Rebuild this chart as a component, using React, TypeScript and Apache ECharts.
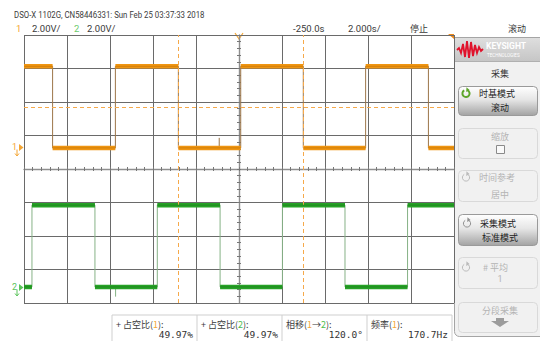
import { useEffect, useRef } from "react";
import * as echarts from "echarts";

// Horizontal window (s) and vertical scale (V/div)
const timeStart = -260;
const timeEnd = -240;
const timePerDiv = 2;
const voltsPerDiv = 2;

// Channel 1: square wave levels (V) and edge times (s)
const ch1Low = 0;
const ch1High = 4.87;
const ch1StartsHigh = true;
const ch1Edges = [-258.67, -255.75, -252.82, -249.92, -247.01, -244.11, -241.19];
const ch1OffsetDiv = 0.63;
const ch1Glitch = [-250.92, 0.6];

// Channel 2
const ch2Low = 0;
const ch2High = 4.88;
const ch2StartsHigh = false;
const ch2Edges = [-259.63, -256.7, -253.8, -250.88, -247.98, -245.07, -242.16];
const ch2OffsetDiv = -3.52;
const ch2Glitch = [-255.74, -0.58];

// Measurement readouts
const measNames = ["+ 占空比", "+ 占空比", "相移", "频率"];
const measSources = ["{o|1}", "{g|2}", "{o|1}→{g|2}", "{o|1}"];
const measValues = ["49.97%", "49.97%", "120.0°", "170.7Hz"];

const ORANGE = "#ef9512";
const ORANGE_EDGE = "#9c7548";
const ORANGE_CORE = "#c47404";
const GREEN = "#27a327";
const GREEN_EDGE = "#86b286";
const GREEN_CORE = "#1a7a1a";
const GRID = "#6a6a6a";

type Seg = [number, number, number];

function segments(edges: number[], startsHigh: boolean, lo: number, hi: number): Seg[] {
  const bounds = [timeStart, ...edges, timeEnd];
  const out: Seg[] = [];
  let high = startsHigh;
  for (let i = 0; i < bounds.length - 1; i++) {
    out.push([bounds[i], bounds[i + 1], high ? hi : lo]);
    high = !high;
  }
  return out;
}

function stepLine(segs: Seg[]) {
  const pts: (number | string)[][] = [];
  segs.forEach(([a, b, v]) => {
    pts.push([a, v], [b, v]);
  });
  return pts;
}

function plateauLine(segs: Seg[]) {
  const pts: (number | string)[][] = [];
  segs.forEach(([a, b, v]) => {
    pts.push([a, v], [b, v], [b, "-"]);
  });
  return pts;
}

const cjk = '"Noto Sans CJK SC", "Noto Sans", sans-serif';
const sans = 'Roboto, "Liberation Sans", sans-serif';
const mono = '"DejaVu Sans Mono", "Liberation Mono", monospace';

function txt(x: number, y: number, text: string, opts: any = {}) {
  const align = opts.align || "left";
  return {
    type: "text",
    x,
    y,
    scaleX: opts.scaleX || 1,
    silent: true,
    style: {
      text,
      fill: opts.fill || "#3a3a3a",
      font: opts.font || `9px ${cjk}`,
      textAlign: align,
      align,
      textVerticalAlign: "middle",
      verticalAlign: "middle",
      rich: opts.rich,
    },
  };
}

function spinIcon(cx: number, cy: number, color: string, w: number) {
  return [
    {
      type: "arc",
      silent: true,
      shape: { cx, cy, r: 3.6, startAngle: -1.2, endAngle: 4.2, clockwise: true },
      style: { stroke: color, lineWidth: w, fill: "none" },
    },
    {
      type: "polygon",
      silent: true,
      shape: { points: [[cx + 0.5, cy - 6.2], [cx + 3.6, cy - 3.6], [cx + 0.2, cy - 1.6]] },
      style: { fill: color },
    },
  ];
}

function buildGraphics() {
  const g: any[] = [];
  // header
  g.push(txt(14, 15, "DSO-X 1102G, CN58446331: Sun Feb 25 03:37:33 2018", {
    font: `9px ${sans}`, fill: "#3c3c3c", scaleX: 0.87,
  }));
  g.push(txt(16, 28, "1", { font: `9.5px ${sans}`, fill: "#f4a634" }));
  g.push(txt(32, 28, "2.00V/", { font: `9.5px ${sans}` }));
  g.push(txt(74, 28, "2", { font: `9.5px ${sans}`, fill: "#6ccb6c" }));
  g.push(txt(87, 28, "2.00V/", { font: `9.5px ${sans}` }));
  g.push(txt(293, 28, "-250.0s", { font: `9.5px ${sans}` }));
  g.push(txt(348, 28, "2.000s/", { font: `9.5px ${sans}` }));
  g.push(txt(410, 28, "停止"));
  g.push(txt(508, 28, "滚动"));

  // trigger / delay indicators on the top edge
  g.push({
    type: "polyline", silent: true,
    shape: { points: [[235, 33], [239, 39], [243, 33]] },
    style: { stroke: "#f4a634", lineWidth: 1.2, fill: "none" },
  });
  g.push({
    type: "polygon", silent: true,
    shape: { points: [[448, 34], [454, 34], [454, 39]] },
    style: { fill: "#f08a1a" },
  });

  // ground markers
  const gm = (y: number, label: string, color: string) => [
    txt(12, y - 1, label, { font: `9px ${sans}`, fill: color }),
    {
      type: "polygon", silent: true,
      shape: { points: [[19, y - 3.5], [23.5, y], [19, y + 3.5]] },
      style: { fill: color },
    },
    {
      type: "line", silent: true,
      shape: { x1: 17, y1: y + 2, x2: 17, y2: y + 8 },
      style: { stroke: color, lineWidth: 1 },
    },
    {
      type: "polyline", silent: true,
      shape: { points: [[15, y + 6], [17, y + 8.5], [19, y + 6]] },
      style: { stroke: color, lineWidth: 1, fill: "none" },
    },
  ];
  g.push(...gm(147.5, "1", "#f4a634"));
  g.push(...gm(287.5, "2", "#5cc45c"));

  // measurement bar
  const cellX = [112, 197, 282, 367, 452];
  g.push({
    type: "line", silent: true,
    shape: { x1: 112, y1: 315, x2: 452, y2: 315 },
    style: { stroke: "#cfcfcf", lineWidth: 1 },
  });
  cellX.forEach((x) =>
    g.push({
      type: "line", silent: true,
      shape: { x1: x, y1: 315, x2: x, y2: 341 },
      style: { stroke: "#cfcfcf", lineWidth: 1 },
    })
  );
  const rich = {
    o: { fill: "#f4a634", font: `9px ${cjk}` },
    g: { fill: "#4dbd4d", font: `9px ${cjk}` },
  };
  measNames.forEach((name, i) => {
    g.push(txt(cellX[i] + 4, 324, `${name}(${measSources[i]}):`, { rich }));
    g.push(txt(cellX[i + 1] - 4, 334.5, measValues[i], { font: `9.5px ${mono}`, align: "right", fill: "#333" }));
  });

  // side panel
  g.push({
    type: "rect", silent: true,
    shape: { x: 454.5, y: 37.5, width: 92, height: 299, r: [0, 0, 0, 5] },
    style: { fill: "#f1f1f1", stroke: "#a5a5a5", lineWidth: 1 },
  });
  g.push({
    type: "rect", silent: true,
    shape: { x: 455, y: 38, width: 86, height: 23 },
    style: {
      fill: new echarts.graphic.LinearGradient(0, 0, 0, 1, [
        { offset: 0, color: "#dedede" },
        { offset: 1, color: "#c6c6c6" },
      ]),
    },
  });
  g.push({
    type: "polyline", silent: true,
    shape: {
      points: [[457, 50], [459, 48], [461, 53], [463, 44], [465, 57], [467, 41], [469, 58],
        [471, 42], [473, 56], [475, 45], [477, 53], [479, 47], [481, 51], [483, 49]],
    },
    style: { stroke: "#e0122b", lineWidth: 1.8, fill: "none" },
  });
  g.push(txt(486, 46, "KEYSIGHT", { font: `bold 8.5px ${sans}`, fill: "#ffffff" }));
  g.push(txt(487, 55.5, "TECHNOLOGIES", { font: `4.5px ${sans}`, fill: "#ffffff" }));
  g.push({
    type: "line", silent: true,
    shape: { x1: 455, y1: 61.5, x2: 540, y2: 61.5 },
    style: { stroke: "#b0b0b0", lineWidth: 1 },
  });
  g.push(txt(500, 73, "采集", { align: "center", fill: "#333" }));

  const activeFill = new echarts.graphic.LinearGradient(0, 0, 0, 1, [
    { offset: 0, color: "#ffffff" },
    { offset: 0.45, color: "#e6e6e6" },
    { offset: 1, color: "#a3a3a3" },
  ]);
  const btn = (y: number, h: number, active: boolean) => ({
    type: "rect", silent: true,
    shape: { x: 458.5, y: y + 0.5, width: 79, height: h, r: 4 },
    style: active
      ? { fill: activeFill, stroke: "#9a9a9a", lineWidth: 1 }
      : { fill: "#f1f1f1", stroke: "#d9d9d9", lineWidth: 1 },
  });
  const dim = "#b4b4b4";

  g.push(btn(86, 29, true));
  g.push(...spinIcon(466, 93.5, "#5da52a", 2));
  g.push(txt(479, 93, "时基模式", { fill: "#222" }));
  g.push(txt(500, 107, "滚动", { align: "center", fill: "#222" }));

  g.push(btn(128, 30, false));
  g.push(txt(500, 136, "缩放", { align: "center", fill: dim }));
  g.push({
    type: "rect", silent: true,
    shape: { x: 496.5, y: 145.5, width: 8, height: 8 },
    style: { fill: "#fafafa", stroke: "#8a8a8a", lineWidth: 1 },
  });

  g.push(btn(170, 31, false));
  g.push(...spinIcon(466, 177.5, "#bbbbbb", 1));
  g.push(txt(479, 177, "时间参考", { fill: dim }));
  g.push(txt(500, 194, "居中", { align: "center", fill: dim }));

  g.push(btn(214, 31, true));
  g.push(...spinIcon(467, 223.5, "#909090", 1));
  g.push(txt(480, 223, "采集模式", { fill: "#222" }));
  g.push(txt(500, 237, "标准模式", { align: "center", fill: "#222" }));

  g.push(btn(257, 31, false));
  g.push(...spinIcon(466, 267.5, "#bbbbbb", 1));
  g.push(txt(483, 267, "# 平均", { fill: dim }));
  g.push(txt(500, 279, "1", { align: "center", fill: dim, font: `9px ${sans}` }));

  g.push(btn(302, 30, false));
  g.push(txt(500, 310, "分段采集", { align: "center", fill: dim }));
  g.push({
    type: "polygon", silent: true,
    shape: { points: [[496, 318], [504, 318], [504, 321], [509, 321], [500, 327], [491, 321], [496, 321]] },
    style: { fill: "#9c9c9c" },
  });
  return g;
}

function centerAxisX(inside: boolean, showLine: boolean) {
  return {
    type: "value", min: timeStart, max: timeEnd, interval: timePerDiv,
    position: "bottom", offset: -134,
    axisLine: { show: showLine, lineStyle: { color: "#8e8e8e", width: 1.4 } },
    axisTick: { show: true, inside, length: 2, lineStyle: { color: "#777" } },
    minorTick: { show: true, splitNumber: 5, length: 2, lineStyle: { color: "#777" } },
    axisLabel: { show: false }, splitLine: { show: false },
  };
}
function centerAxisY(inside: boolean, showLine: boolean) {
  return {
    type: "value", min: -4, max: 4, interval: 1,
    position: "left", offset: -215,
    axisLine: { show: showLine, lineStyle: { color: "#8e8e8e", width: 1.4 } },
    axisTick: { show: true, inside, length: 2, lineStyle: { color: "#777" } },
    minorTick: { show: true, splitNumber: 5, length: 2, lineStyle: { color: "#777" } },
    axisLabel: { show: false }, splitLine: { show: false },
  };
}

function traceSeries(
  segs: Seg[], yAxisIndex: number, edge: string, band: string, core: string,
  glitch: number[], lo: number, extra: any = {}
) {
  return [
    {
      type: "line", xAxisIndex: 0, yAxisIndex, data: stepLine(segs), symbol: "none",
      lineStyle: { width: 1, color: edge }, z: 3, silent: true,
    },
    {
      type: "line", xAxisIndex: 0, yAxisIndex, data: plateauLine(segs), symbol: "none",
      connectNulls: false, lineStyle: { width: 4.5, color: band }, z: 4, silent: true, ...extra,
    },
    {
      type: "line", xAxisIndex: 0, yAxisIndex, data: plateauLine(segs), symbol: "none",
      connectNulls: false, lineStyle: { width: 1.2, color: core, opacity: 0.55 }, z: 5, silent: true,
    },
    {
      type: "line", xAxisIndex: 0, yAxisIndex, data: [[glitch[0], lo], [glitch[0], glitch[1]]],
      symbol: "none", lineStyle: { width: 1, color: edge }, z: 3, silent: true,
    },
  ];
}

function buildOption() {
  const ch1Segs = segments(ch1Edges, ch1StartsHigh, ch1Low, ch1High);
  const ch2Segs = segments(ch2Edges, ch2StartsHigh, ch2Low, ch2High);
  const dashed = { color: "#f6a94a", width: 1, type: [4, 3] };
  return {
    animation: false,
    backgroundColor: "#ffffff",
    grid: { left: 24, top: 35, width: 430, height: 268 },
    xAxis: [
      {
        type: "value", min: timeStart, max: timeEnd, interval: timePerDiv,
        axisLine: { show: false }, axisTick: { show: false }, axisLabel: { show: false },
        splitLine: { show: true, lineStyle: { color: GRID, width: 1 } },
      },
      centerAxisX(false, true),
      centerAxisX(true, false),
    ],
    yAxis: [
      {
        type: "value", min: -4, max: 4, interval: 1,
        axisLine: { show: false }, axisTick: { show: false }, axisLabel: { show: false },
        splitLine: { show: true, lineStyle: { color: GRID, width: 1 } },
      },
      {
        type: "value", show: false,
        min: (-4 - ch1OffsetDiv) * voltsPerDiv, max: (4 - ch1OffsetDiv) * voltsPerDiv,
        splitLine: { show: false },
      },
      {
        type: "value", show: false,
        min: (-4 - ch2OffsetDiv) * voltsPerDiv, max: (4 - ch2OffsetDiv) * voltsPerDiv,
        splitLine: { show: false },
      },
      centerAxisY(false, true),
      centerAxisY(true, false),
    ],
    series: [
      ...traceSeries(ch2Segs, 2, GREEN_EDGE, GREEN, GREEN_CORE, ch2Glitch, ch2Low),
      ...traceSeries(ch1Segs, 1, ORANGE_EDGE, ORANGE, ORANGE_CORE, ch1Glitch, ch1Low, {
        markLine: {
          silent: true, symbol: ["none", "none"], label: { show: false },
          lineStyle: dashed,
          data: [
            { xAxis: ch1Edges[2] },
            { xAxis: ch1Edges[4] },
            { yAxis: (ch1High + ch1Low) / 2 },
          ],
        },
      }),
    ],
    graphic: buildGraphics(),
  };
}

export default function App() {
  const ref = useRef<HTMLDivElement>(null);
  useEffect(() => {
    document.body.style.margin = "0";
    const chart = echarts.init(ref.current!, null, { renderer: "svg" });
    chart.setOption(buildOption() as any);
    return () => chart.dispose();
  }, []);
  return <div ref={ref} style={{ width: 540, height: 341 }} />;
}
